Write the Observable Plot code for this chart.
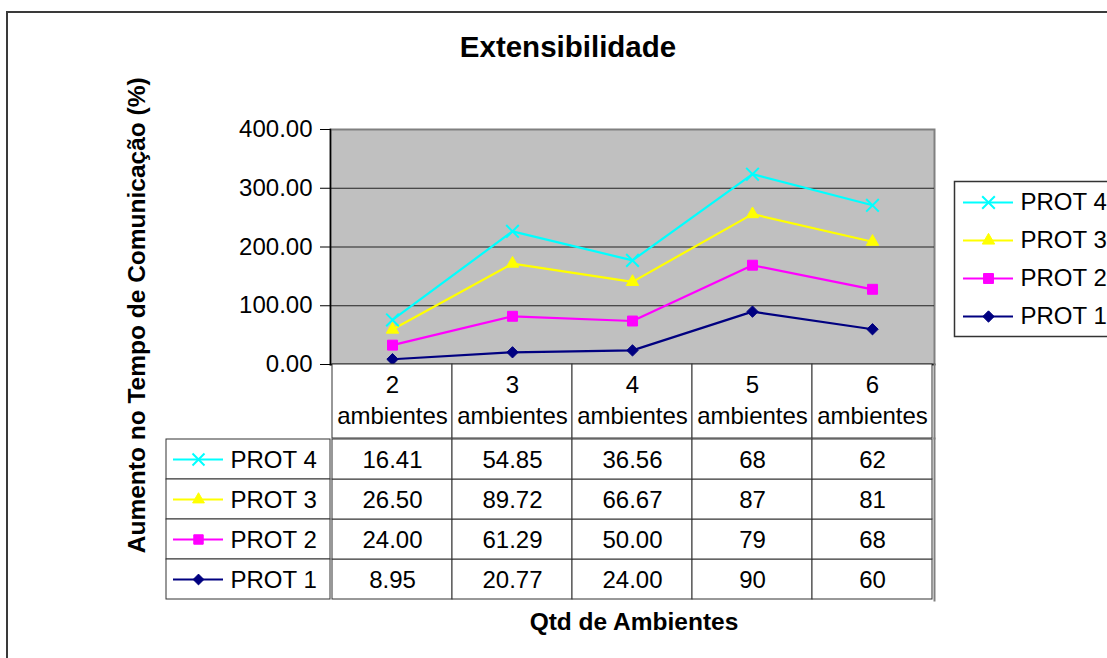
<!DOCTYPE html>
<html>
<head>
<meta charset="utf-8">
<script src="https://cdn.jsdelivr.net/npm/d3@7"></script>
<script src="https://cdn.jsdelivr.net/npm/@observablehq/plot@0.6"></script>
<style>
  html, body { margin: 0; padding: 0; background: #fff; overflow: hidden; }
  #wrap { position: relative; width: 1107px; height: 658px; overflow: hidden; font-family: "Liberation Sans", Arial, Helvetica, sans-serif; color: #000; }
  #border { position: absolute; left: 6px; top: 11px; width: 1300px; height: 800px; border: 2px solid #3a3a3a; box-sizing: border-box; }
  .fig { position: absolute; }
  .ttl { position: absolute; font-weight: bold; white-space: nowrap; text-align: center; }
</style>
</head>
<body>
<div id="wrap"><div id="border"></div></div>
<script>
// ---------- data ----------
const chartTitle = "Extensibilidade";
const yTitle = "Aumento no Tempo de Comunicação (%)";
const xTitle = "Qtd de Ambientes";
const categories = ["2 ambientes", "3 ambientes", "4 ambientes", "5 ambientes", "6 ambientes"];
const seriesNames = ["PROT 1", "PROT 2", "PROT 3", "PROT 4"];
const prot1 = [8.95, 20.77, 24.00, 90, 60];
const prot2 = [24.00, 61.29, 50.00, 79, 68];
const prot3 = [26.50, 89.72, 66.67, 87, 81];
const prot4 = [16.41, 54.85, 36.56, 68, 62];
const prot1Labels = ["8.95", "20.77", "24.00", "90", "60"];
const prot2Labels = ["24.00", "61.29", "50.00", "79", "68"];
const prot3Labels = ["26.50", "89.72", "66.67", "87", "81"];
const prot4Labels = ["16.41", "54.85", "36.56", "68", "62"];
const yTicks = [0, 100, 200, 300, 400];

// ---------- styles ----------
const FONT = '"Liberation Sans", Arial, Helvetica, sans-serif';
const seriesColors = ["#000080", "#FF00FF", "#FFFF00", "#00FFFF"];
const seriesSymbols = [d3.symbolDiamond2, d3.symbolSquare, d3.symbolTriangle, d3.symbolTimes];
const markerR = [5.1, 5.6, 4.6, 5.8];
const gridStroke = "#333333";

const seriesValues = [prot1, prot2, prot3, prot4];
const seriesLabels = [prot1Labels, prot2Labels, prot3Labels, prot4Labels];
const rows = seriesNames.flatMap((s, k) =>
  categories.map((c, i) => ({series: s, cat: c, value: seriesValues[k][i], label: seriesLabels[k][i]})));
const rowOrder = seriesNames.slice().reverse();

const wrap = document.getElementById("wrap");
function place(el, left, top) {
  el.classList.add("fig");
  el.style.left = left + "px";
  el.style.top = top + "px";
  wrap.appendChild(el);
}
const baseStyle = {background: "transparent", fontFamily: FONT, fontSize: "24px", color: "#000", overflow: "visible"};
const colorScale = {domain: seriesNames, range: seriesColors};
const symbolScale = {domain: seriesNames, range: seriesSymbols};

// ---------- main chart ----------
const stackOpts = (extra) => Plot.stackY2({x: "cat", y: "value", z: "series", ...extra});
const main = Plot.plot({
  width: 1107, height: 658,
  marginLeft: 330, marginRight: 173, marginTop: 129, marginBottom: 294,
  style: baseStyle,
  x: {type: "point", domain: categories, padding: 0.5, axis: null},
  y: {domain: [0, 400]},
  color: colorScale,
  symbol: symbolScale,
  marks: [
    Plot.frame({fill: "#C0C0C0", stroke: "#808080", strokeWidth: 2}),
    Plot.ruleY(yTicks.slice(1, -1), {stroke: "#222", strokeWidth: 1}),
    Plot.frame({anchor: "left", stroke: "#000", strokeWidth: 1.5}),
    Plot.frame({anchor: "bottom", stroke: "#000", strokeWidth: 1.5}),
    Plot.axisY({ticks: yTicks, tickFormat: d3.format(".2f"), tickSize: 10, tickPadding: 8, fontSize: 24, label: null, stroke: "#000"}),
    Plot.line(rows, stackOpts({stroke: "series", strokeWidth: 2.2})),
    ...seriesNames.map((s, k) =>
      Plot.dot(rows, Plot.filter(d => d.series === s, stackOpts({
        symbol: "series", fill: "series", stroke: "series",
        strokeWidth: k === 3 ? 2 : 1, r: markerR[k]
      }))))
  ]
});
place(main, 0, 0);

// ---------- table header row (category labels) ----------
const header = Plot.plot({
  width: 606, height: 76, margin: 1,
  style: baseStyle,
  x: {type: "band", domain: categories, padding: 0, axis: null},
  marks: [
    Plot.cell(categories, {x: d => d, fill: "white", stroke: gridStroke, strokeWidth: 1}),
    Plot.frame({anchor: "right", stroke: "#808080", strokeWidth: 2}),
    Plot.text(categories, {x: d => d, text: d => d.replace(" ", "\n"), lineHeight: 1.29, fontSize: 24, dy: -3})
  ]
});
place(header, 329, 363);

// ---------- table body ----------
const body = Plot.plot({
  width: 606, height: 164, margin: 1,
  style: baseStyle,
  x: {type: "band", domain: categories, padding: 0, axis: null},
  y: {type: "band", domain: rowOrder, padding: 0, axis: null},
  marks: [
    Plot.cell(rows, {x: "cat", y: "series", fill: "white", stroke: gridStroke, strokeWidth: 1}),
    Plot.frame({anchor: "right", stroke: "#808080", strokeWidth: 2}),
    Plot.text(rows, {x: "cat", y: "series", text: "label", fontSize: 24, dy: 1})
  ]
});
place(body, 329, 437);

// ---------- table row headers with swatches ----------
const rowHead = Plot.plot({
  width: 166, height: 164, margin: 1,
  style: baseStyle,
  y: {type: "band", domain: rowOrder, padding: 0, axis: null},
  color: colorScale,
  symbol: symbolScale,
  marks: [
    Plot.cell(rowOrder, {y: d => d, fill: "white", stroke: gridStroke, strokeWidth: 1}),
    Plot.ruleY(rowOrder, {y: d => d, stroke: d => d, strokeWidth: 2, insetLeft: 7, insetRight: 107}),
    ...rowOrder.map(s => {
      const k = seriesNames.indexOf(s);
      return Plot.dot([s], {y: d => d, frameAnchor: "left", dx: 32, symbol: d => d, fill: d => d, stroke: d => d,
        strokeWidth: k === 3 ? 2 : 1, r: markerR[k] * 0.95});
    }),
    Plot.text(rowOrder, {y: d => d, frameAnchor: "left", dx: 64, textAnchor: "start", text: d => d, fontSize: 24, letterSpacing: "-0.3px", dy: 1})
  ]
});
place(rowHead, 165, 437);

// ---------- legend ----------
const legend = Plot.plot({
  width: 172, height: 157, margin: 1,
  style: baseStyle,
  y: {type: "band", domain: rowOrder, padding: 0, axis: null},
  color: colorScale,
  symbol: symbolScale,
  marks: [
    Plot.frame({fill: "white", stroke: "#333", strokeWidth: 1.5}),
    Plot.ruleY(rowOrder, {y: d => d, stroke: d => d, strokeWidth: 2, insetLeft: 9, insetRight: 111}),
    ...rowOrder.map(s => {
      const k = seriesNames.indexOf(s);
      return Plot.dot([s], {y: d => d, frameAnchor: "left", dx: 34, symbol: d => d, fill: d => d, stroke: d => d,
        strokeWidth: k === 3 ? 2 : 1, r: markerR[k]});
    }),
    Plot.text(rowOrder, {y: d => d, frameAnchor: "left", dx: 66, textAnchor: "start", text: d => d, fontSize: 24, letterSpacing: "-0.3px"})
  ]
});
place(legend, 953, 180);

// ---------- titles ----------
function addTitle(text, css) {
  const d = document.createElement("div");
  d.className = "ttl";
  d.textContent = text;
  Object.assign(d.style, css);
  wrap.appendChild(d);
}
addTitle(chartTitle, {left: "368px", top: "32px", width: "400px", fontSize: "29.5px", lineHeight: "29.5px"});
addTitle(xTitle, {left: "434px", top: "610px", width: "400px", fontSize: "24.5px", lineHeight: "24.5px"});
addTitle(yTitle, {left: "-113px", top: "303px", width: "500px", height: "24.5px", fontSize: "24.5px", lineHeight: "24.5px",
  transform: "rotate(-90deg)", transformOrigin: "50% 50%"});
</script>
</body>
</html>
